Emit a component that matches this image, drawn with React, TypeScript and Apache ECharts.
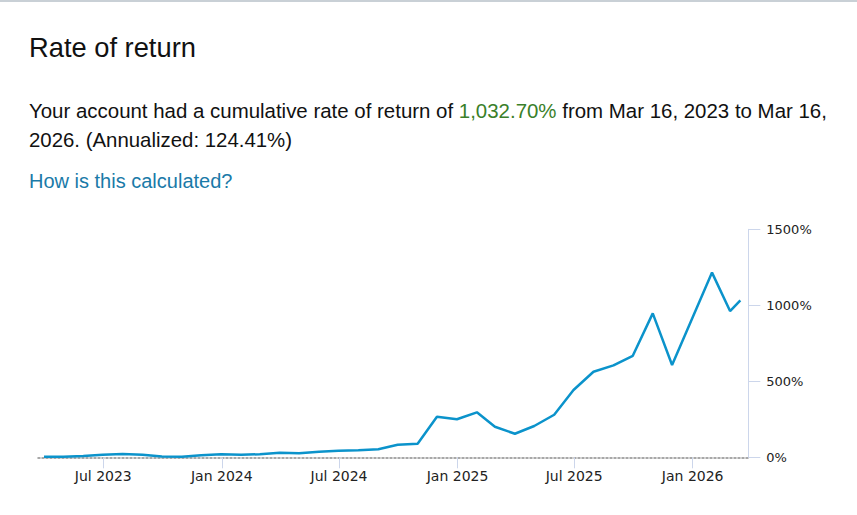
import React, { useEffect, useRef } from "react";
import * as echarts from "echarts";

// Month-end observation dates (plus final partial month)
const obsDates: string[] = [
  "2023-03-31", "2023-04-30", "2023-05-31", "2023-06-30", "2023-07-31", "2023-08-31",
  "2023-09-30", "2023-10-31", "2023-11-30", "2023-12-31", "2024-01-31", "2024-02-29",
  "2024-03-31", "2024-04-30", "2024-05-31", "2024-06-30", "2024-07-31", "2024-08-31",
  "2024-09-30", "2024-10-31", "2024-11-30", "2024-12-31", "2025-01-31", "2025-02-28",
  "2025-03-31", "2025-04-30", "2025-05-31", "2025-06-30", "2025-07-31", "2025-08-31",
  "2025-09-30", "2025-10-31", "2025-11-30", "2025-12-31", "2026-01-31", "2026-02-28",
  "2026-03-16",
];

// Cumulative rate of return (%)
const cumulativeReturn: number[] = [
  4, 4, 9, 17, 22, 17,
  6, 4, 13, 20, 17, 20,
  30, 26, 37, 43, 46, 53,
  83, 89, 267, 250, 296, 201,
  155, 206, 280, 443, 563, 605,
  668, 947, 607, 912, 1215, 962,
  1033,
];

const xTickDates: string[] = ["2023-07-01", "2024-01-01", "2024-07-01", "2025-01-01", "2025-07-01", "2026-01-01"];
const monthNames: string[] = ["Jan", "Feb", "Mar", "Apr", "May", "Jun", "Jul", "Aug", "Sep", "Oct", "Nov", "Dec"];
const yMin = 0;
const yMax = 1500;
const yStep = 500;

const titleText = "Rate of return";
const summaryLine1a = "Your account had a cumulative rate of return of ";
const summaryValue = "1,032.70%";
const summaryLine1b = " from Mar 16, 2023 to Mar 16,";
const summaryLine2 = "2026. (Annualized: 124.41%)";
const linkText = "How is this calculated?";

const ts = (s: string) => {
  const [y, m, d] = s.split("-").map(Number);
  return Date.UTC(y, m - 1, d);
};

export default function App() {
  const ref = useRef<HTMLDivElement>(null);

  useEffect(() => {
    if (!ref.current) return;
    const chart = echarts.init(ref.current, undefined, { renderer: "svg" });
    const textFont = "Arial, 'Liberation Sans', sans-serif";
    const axisFont = "'DejaVu Sans', Verdana, sans-serif";
    const seriesData = obsDates.map((d, i) => [ts(d), cumulativeReturn[i]]);
    const tickVals = xTickDates.map(ts);

    chart.setOption({
      animation: false,
      backgroundColor: "#ffffff",
      graphic: [
        {
          type: "rect",
          left: 0,
          top: 0,
          shape: { width: 857, height: 2 },
          style: { fill: "#c9d0d6" },
          silent: true,
        },
        {
          type: "text",
          x: 29,
          y: 47.5,
          style: {
            text: titleText,
            font: `27.3px ${textFont}`,
            fill: "#111111",
            verticalAlign: "middle",
            align: "left",
          },
        },
        {
          type: "text",
          x: 29,
          y: 110.7,
          style: {
            text: `{a|${summaryLine1a}}{g|${summaryValue}}{a|${summaryLine1b}}`,
            verticalAlign: "middle",
            align: "left",
            rich: {
              a: { font: `20.45px ${textFont}`, fill: "#111111" },
              g: { font: `20.45px ${textFont}`, fill: "#3a7f2a" },
            },
          },
        },
        {
          type: "text",
          x: 29,
          y: 139.7,
          style: {
            text: summaryLine2,
            font: `20.4px ${textFont}`,
            fill: "#111111",
            verticalAlign: "middle",
            align: "left",
          },
        },
        {
          type: "text",
          x: 29,
          y: 180.8,
          style: {
            text: linkText,
            font: `20px ${textFont}`,
            fill: "#1a7aa8",
            verticalAlign: "middle",
            align: "left",
          },
        },
      ],
      grid: {
        left: 38,
        right: 108.7,
        top: 229.3,
        bottom: 57.7,
        containLabel: false,
      },
      xAxis: {
        type: "value",
        min: Date.UTC(2023, 2, 21, 16),
        max: Date.UTC(2026, 2, 28, 8),
        axisLine: {
          show: true,
          onZero: true,
          lineStyle: { color: "#8c8c8c", width: 1.5, type: [2, 2] },
        },
        axisTick: {
          show: true,
          customValues: tickVals,
          length: 11,
          lineStyle: { color: "#ccd6eb", width: 1 },
        },
        axisLabel: {
          customValues: tickVals,
          margin: 12,
          fontFamily: axisFont,
          fontSize: 14,
          color: "#222222",
          formatter: (v: number) => {
            const d = new Date(v);
            return `${monthNames[d.getUTCMonth()]} ${d.getUTCFullYear()}`;
          },
        },
        splitLine: { show: false },
      },
      yAxis: {
        type: "value",
        position: "right",
        min: yMin,
        max: yMax,
        interval: yStep,
        axisLine: { show: true, lineStyle: { color: "#ccd6eb", width: 1 } },
        axisTick: { show: true, length: 12, lineStyle: { color: "#ccd6eb", width: 1 } },
        axisLabel: {
          margin: 18,
          fontFamily: axisFont,
          fontSize: 13,
          color: "#222222",
          formatter: (v: number) => `${v}%`,
        },
        splitLine: { show: false },
      },
      series: [
        {
          type: "line",
          data: seriesData,
          showSymbol: false,
          symbol: "none",
          lineStyle: { color: "#0b93cb", width: 2.5 },
          z: 3,
        },
      ],
    });

    return () => {
      chart.dispose();
    };
  }, []);

  return (
    <div
      ref={ref}
      style={{ position: "fixed", left: 0, top: 0, width: 857, height: 515, background: "#fff" }}
    />
  );
}
